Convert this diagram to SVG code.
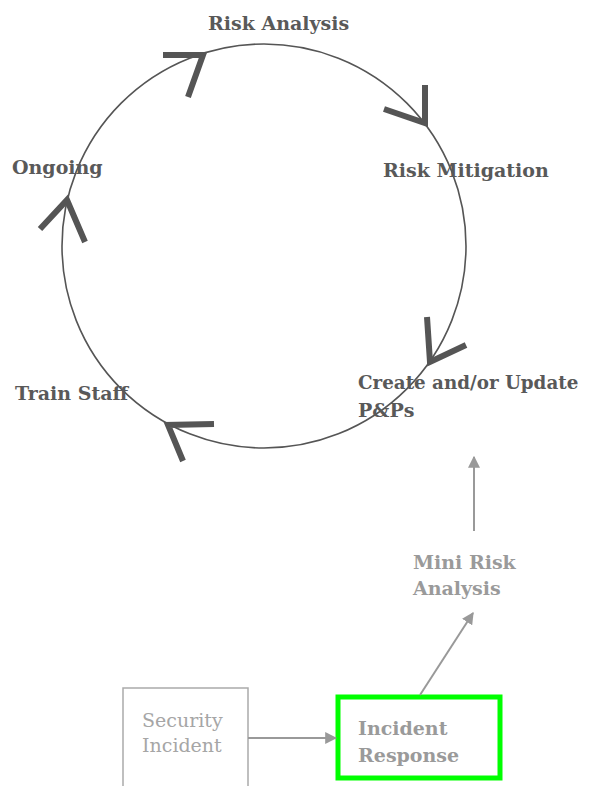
<svg xmlns="http://www.w3.org/2000/svg" width="590" height="786" viewBox="0 0 590 786">
  <style>
    .lbl { font-family: "DejaVu Serif", "Liberation Serif", serif; font-weight: bold; font-size: 19px; fill: #595959; }
    .lite { font-family: "DejaVu Serif", "Liberation Serif", serif; font-weight: bold; font-size: 19px; fill: #9a9a9a; }
    .reg { font-family: "DejaVu Serif", "Liberation Serif", serif; font-size: 19px; fill: #a6a6a6; }
    .chev { fill: none; stroke: #555555; stroke-width: 6; stroke-linejoin: miter; }
    .conn { fill: none; stroke: #999999; stroke-width: 2; }
  </style>
  <defs>
    <marker id="tri" viewBox="0 0 10 10" refX="9" refY="5" markerWidth="6" markerHeight="6" markerUnits="strokeWidth" orient="auto">
      <path d="M0,0 L10,5 L0,10 z" fill="#999999"/>
    </marker>
  </defs>

  <!-- cycle ring with its direction chevrons -->
  <g id="cycle">
    <circle cx="264" cy="246" r="202" fill="none" stroke="#555555" stroke-width="1.6"/>
    <polyline class="chev" points="163,55 203,55 188,97"/>
    <polyline class="chev" points="425,85 425,123 384,109"/>
    <polyline class="chev" points="427,317 430,362 466,345"/>
    <polyline class="chev" points="214,424 168,425 183,461"/>
    <polyline class="chev" points="40,229 67,200 85,242"/>
  </g>

  <g id="risk-analysis"><text class="lbl" x="208" y="30">Risk Analysis</text></g>
  <g id="risk-mitigation"><text class="lbl" x="383" y="177">Risk Mitigation</text></g>
  <g id="ongoing"><text class="lbl" x="12" y="174">Ongoing</text></g>
  <g id="train-staff"><text class="lbl" x="15" y="400">Train Staff</text></g>
  <g id="create-update">
    <text class="lbl" x="358" y="389" style="font-size:18.3px">Create and/or Update</text>
    <text class="lbl" x="358" y="417">P&amp;Ps</text>
  </g>

  <g id="mini-risk-analysis">
    <text class="lite" x="413" y="569">Mini Risk</text>
    <text class="lite" x="413" y="595">Analysis</text>
  </g>

  <g id="security-incident">
    <rect x="123" y="688" width="125" height="110" fill="none" stroke="#aaaaaa" stroke-width="1.5"/>
    <text class="reg" x="142" y="727">Security</text>
    <text class="reg" x="142" y="752">Incident</text>
  </g>

  <g id="incident-response">
    <rect x="338" y="697" width="162" height="81" fill="none" stroke="#00ff00" stroke-width="5"/>
    <text class="lite" x="358" y="735">Incident</text>
    <text class="lite" x="358" y="762">Response</text>
  </g>

  <g id="connectors">
    <line class="conn" x1="248" y1="738" x2="336" y2="738" marker-end="url(#tri)"/>
    <line class="conn" x1="420" y1="695" x2="473" y2="613" marker-end="url(#tri)"/>
    <line class="conn" x1="474" y1="531" x2="474" y2="457" marker-end="url(#tri)"/>
  </g>
</svg>
